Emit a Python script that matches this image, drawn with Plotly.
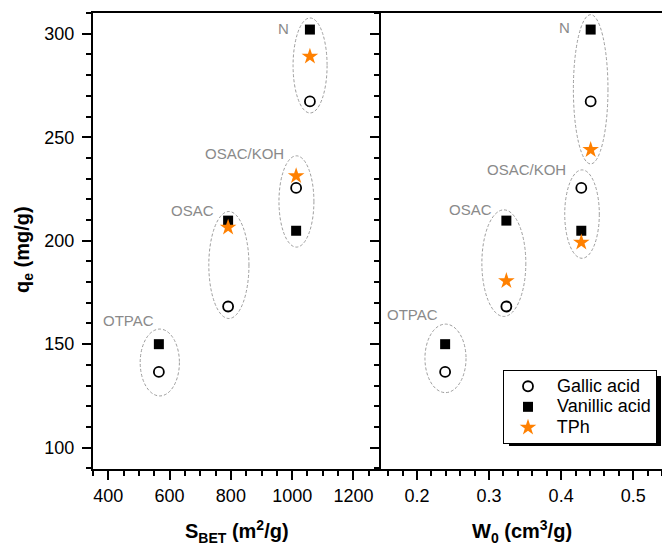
import plotly.graph_objects as go

# ---- data ----
materials = ["OTPAC", "OSAC", "OSAC/KOH", "N"]
s_bet = [565, 791, 1013, 1058]
w0 = [0.239, 0.324, 0.428, 0.441]
gallic = [136.6, 168.2, 225.5, 267.3]
vanillic = [150.0, 209.7, 204.8, 302.0]
tph_sbet = [None, 206.4, 231.3, 289.0]
tph_w0 = [None, 180.6, 199.2, 243.9]
series_names = ["Gallic acid", "Vanillic acid", "TPh"]

# dashed ellipses grouping each material (x0, x1, y0, y1)
ell_sbet_x0 = [504, 728, 957, 1003]
ell_sbet_x1 = [632, 859, 1071, 1114]
ell_sbet_y0 = [125.0, 162.4, 196.9, 261.7]
ell_sbet_y1 = [157.3, 214.1, 241.0, 307.6]
ell_w0_x0 = [0.211, 0.290, 0.405, 0.417]
ell_w0_x1 = [0.268, 0.351, 0.453, 0.465]
ell_w0_y0 = [126.6, 163.4, 191.5, 237.1]
ell_w0_y1 = [159.7, 214.9, 234.2, 309.2]

# material label positions
lab_sbet_x = [466, 676, 843, 973]
lab_sbet_y = [161.3, 214.7, 242.0, 302.3]
lab_w0_x = [0.1935, 0.2744, 0.352, 0.4046]
lab_w0_y = [164.2, 215.0, 234.2, 302.8]

ORANGE = "#FF8000"
GRAY = "#8a8a8a"
FONT = "Liberation Sans, Arial, sans-serif"

W, H = 662, 547
ML, MR, MT, MB = 93, 0, 13, 78
PW = W - ML - MR
PH = H - MT - MB
split = (381 - ML) / PW


def px_x(p):
    return (p - ML) / PW


def px_y(p):
    return (H - MB - p) / PH


def leg(name):
    return '<span style="font-size:18px"> ' + name + '</span>'


fig = go.Figure()

circ = dict(symbol="circle-open", size=10, color="black", line=dict(width=1.8, color="black"))
sq = dict(symbol="square", size=10, color="black")
star = dict(symbol="star", size=12.5, color=ORANGE, line=dict(width=0))

fig.add_trace(go.Scatter(x=s_bet, y=gallic, mode="markers", marker=circ, name=leg(series_names[0]), xaxis="x", yaxis="y"))
fig.add_trace(go.Scatter(x=s_bet, y=vanillic, mode="markers", marker=sq, name=leg(series_names[1]), xaxis="x", yaxis="y"))
fig.add_trace(go.Scatter(x=s_bet, y=tph_sbet, mode="markers", marker=star, name=leg(series_names[2]), xaxis="x", yaxis="y"))
fig.add_trace(go.Scatter(x=w0, y=gallic, mode="markers", marker=circ, name=series_names[0], xaxis="x2", yaxis="y2", showlegend=False))
fig.add_trace(go.Scatter(x=w0, y=vanillic, mode="markers", marker=sq, name=series_names[1], xaxis="x2", yaxis="y2", showlegend=False))
fig.add_trace(go.Scatter(x=w0, y=tph_w0, mode="markers", marker=star, name=series_names[2], xaxis="x2", yaxis="y2", showlegend=False))

ell_line = dict(color="#9d9d9d", width=1, dash="3px,2px")
shapes = []
for i in range(len(materials)):
    shapes.append(dict(type="circle", xref="x", yref="y", x0=ell_sbet_x0[i], x1=ell_sbet_x1[i],
                       y0=ell_sbet_y0[i], y1=ell_sbet_y1[i], line=ell_line, layer="below"))
    shapes.append(dict(type="circle", xref="x2", yref="y2", x0=ell_w0_x0[i], x1=ell_w0_x1[i],
                       y0=ell_w0_y0[i], y1=ell_w0_y1[i], line=ell_line, layer="below"))

# legend shadow
shapes.append(dict(type="rect", xref="paper", yref="paper", x0=px_x(509), x1=px_x(661),
                   y0=px_y(446), y1=px_y(376), fillcolor="black", line=dict(width=0), layer="above"))

annotations = []
for i, m in enumerate(materials):
    annotations.append(dict(x=lab_sbet_x[i], y=lab_sbet_y[i], xref="x", yref="y", text=m, showarrow=False,
                            font=dict(family=FONT, size=15, color=GRAY), xanchor="center", yanchor="middle"))
    annotations.append(dict(x=lab_w0_x[i], y=lab_w0_y[i], xref="x2", yref="y2", text=m, showarrow=False,
                            font=dict(family=FONT, size=15, color=GRAY), xanchor="center", yanchor="middle"))

title_font = dict(family=FONT, size=20, color="black")
annotations.append(dict(x=px_x(23), y=px_y(250), xref="paper", yref="paper", text="<b>q<sub>e</sub> (mg/g)</b>",
                        textangle=-90, showarrow=False, font=title_font, xanchor="center", yanchor="middle"))
annotations.append(dict(x=split / 2, y=px_y(531), xref="paper", yref="paper", text="<b>S<sub>BET</sub> (m<sup>2</sup>/g)</b>",
                        showarrow=False, font=title_font, xanchor="center", yanchor="middle"))
annotations.append(dict(x=px_x(522), y=px_y(531), xref="paper", yref="paper", text="<b>W<sub>0</sub> (cm<sup>3</sup>/g)</b>",
                        showarrow=False, font=title_font, xanchor="center", yanchor="middle"))

tick_font = dict(family=FONT, size=18, color="black")
axis_common = dict(showline=True, linecolor="black", linewidth=2, showgrid=False, zeroline=False,
                   ticks="outside", ticklen=9, tickwidth=2, tickcolor="black", tickfont=tick_font)

fig.update_layout(
    width=W, height=H,
    margin=dict(l=ML, r=MR, t=MT, b=MB),
    paper_bgcolor="white", plot_bgcolor="white",
    font=dict(family=FONT, color="black"),
    xaxis=dict(domain=[0, split], range=[350, 1290], dtick=200, tick0=0, mirror=True,
               minor=dict(dtick=50, ticklen=5, tickwidth=2, ticks="outside", tickcolor="black"),
               anchor="y", **axis_common),
    yaxis=dict(range=[89.7, 310], dtick=50, tick0=0, anchor="x", ticklabelstandoff=4,
               minor=dict(dtick=10, ticklen=5, tickwidth=2, ticks="outside", tickcolor="black"),
               **axis_common),
    xaxis2=dict(domain=[split, 1], range=[0.15, 0.54], dtick=0.1, tick0=0, mirror=True,
                minor=dict(dtick=0.02, ticklen=5, tickwidth=2, ticks="outside", tickcolor="black"),
                anchor="y2", **axis_common),
    yaxis2=dict(range=[89.7, 310], dtick=50, tick0=0, anchor="x2", showticklabels=False,
                minor=dict(dtick=10, ticklen=5, tickwidth=2, ticks="outside", tickcolor="black"),
                **axis_common),
    showlegend=True,
    legend=dict(x=px_x(503), y=px_y(370), xanchor="left", yanchor="top",
                bgcolor="white", bordercolor="black", borderwidth=1, itemwidth=38,
                font=dict(family=FONT, size=13.5, color="black"), tracegroupgap=0),
    shapes=shapes,
    annotations=annotations,
)

fig.write_html("out.html", config={"displayModeBar": False},
               post_script="document.body.style.margin='0';document.body.style.overflow='hidden';")
